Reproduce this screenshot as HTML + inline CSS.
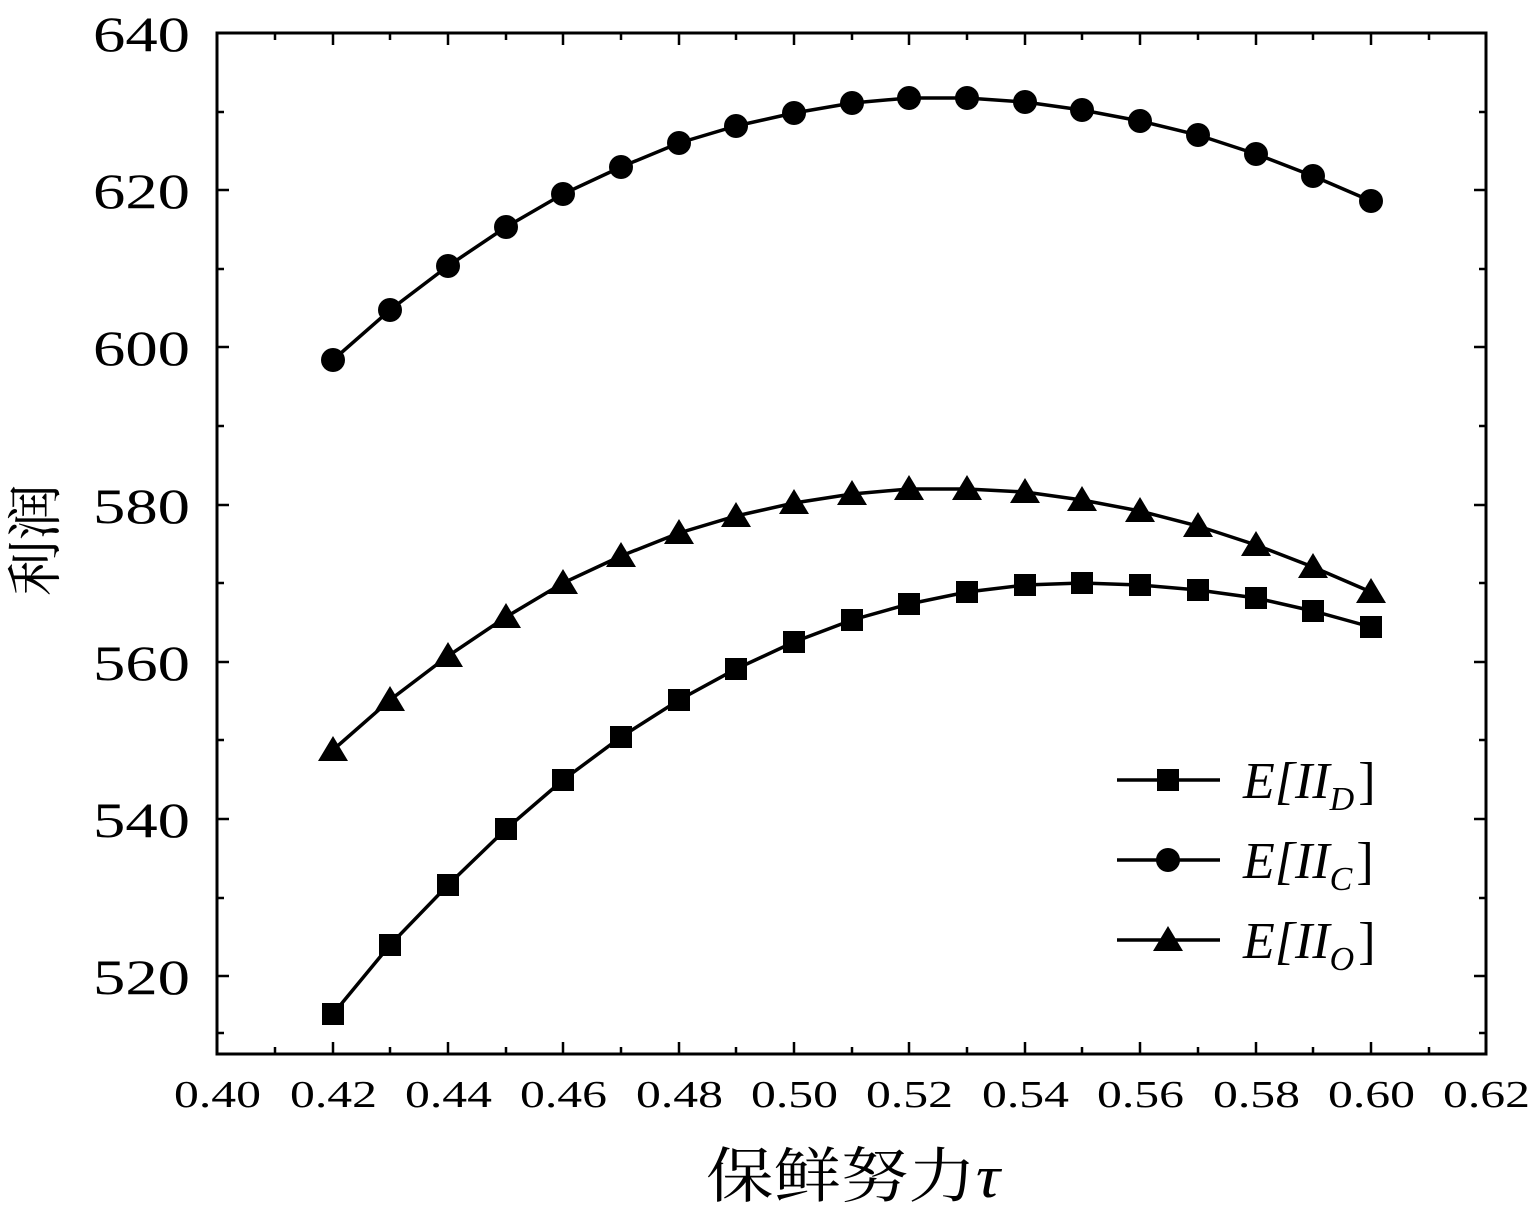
<!DOCTYPE html>
<html><head><meta charset="utf-8"><style>
html,body{margin:0;padding:0;background:#fff;}
svg{display:block;}
</style></head><body>
<svg width="1532" height="1216" viewBox="0 0 1532 1216" xmlns="http://www.w3.org/2000/svg">
<rect width="1532" height="1216" fill="#fff"/>
<rect x="217" y="33" width="1269" height="1021" fill="none" stroke="#000" stroke-width="3"/>
<g stroke="#000" stroke-width="2.5">
<path d="M333,1054v-12M448,1054v-12M563,1054v-12M679,1054v-12M794,1054v-12M909,1054v-12M1025,1054v-12M1140,1054v-12M1256,1054v-12M1371,1054v-12"/>
<path d="M275,1054v-7M390,1054v-7M506,1054v-7M621,1054v-7M736,1054v-7M852,1054v-7M967,1054v-7M1082,1054v-7M1198,1054v-7M1313,1054v-7M1429,1054v-7"/>
<path d="M333,33v12M448,33v12M563,33v12M679,33v12M794,33v12M909,33v12M1025,33v12M1140,33v12M1256,33v12M1371,33v12"/>
<path d="M275,33v7M390,33v7M506,33v7M621,33v7M736,33v7M852,33v7M967,33v7M1082,33v7M1198,33v7M1313,33v7M1429,33v7"/>
<path d="M217,190h12M217,347h12M217,505h12M217,662h12M217,819h12M217,976h12"/>
<path d="M217,112h7M217,269h7M217,426h7M217,583h7M217,740h7M217,898h7M217,1033h7"/>
<path d="M1486,190h-12M1486,347h-12M1486,505h-12M1486,662h-12M1486,819h-12M1486,976h-12"/>
<path d="M1486,112h-7M1486,269h-7M1486,426h-7M1486,583h-7M1486,740h-7M1486,898h-7M1486,1033h-7"/>
</g>
<g font-family="Liberation Serif, serif" font-size="50" fill="#000">
<text x="93" y="51" textLength="97" lengthAdjust="spacingAndGlyphs">640</text>
<text x="93" y="208" textLength="97" lengthAdjust="spacingAndGlyphs">620</text>
<text x="93" y="365" textLength="97" lengthAdjust="spacingAndGlyphs">600</text>
<text x="93" y="523" textLength="97" lengthAdjust="spacingAndGlyphs">580</text>
<text x="93" y="680" textLength="97" lengthAdjust="spacingAndGlyphs">560</text>
<text x="93" y="837" textLength="97" lengthAdjust="spacingAndGlyphs">540</text>
<text x="93" y="994" textLength="97" lengthAdjust="spacingAndGlyphs">520</text>
</g>
<g font-family="Liberation Serif, serif" font-size="38" fill="#000">
<text x="174" y="1107" textLength="87" lengthAdjust="spacingAndGlyphs">0.40</text>
<text x="290" y="1107" textLength="87" lengthAdjust="spacingAndGlyphs">0.42</text>
<text x="405" y="1107" textLength="87" lengthAdjust="spacingAndGlyphs">0.44</text>
<text x="520" y="1107" textLength="87" lengthAdjust="spacingAndGlyphs">0.46</text>
<text x="636" y="1107" textLength="87" lengthAdjust="spacingAndGlyphs">0.48</text>
<text x="751" y="1107" textLength="87" lengthAdjust="spacingAndGlyphs">0.50</text>
<text x="866" y="1107" textLength="87" lengthAdjust="spacingAndGlyphs">0.52</text>
<text x="982" y="1107" textLength="87" lengthAdjust="spacingAndGlyphs">0.54</text>
<text x="1097" y="1107" textLength="87" lengthAdjust="spacingAndGlyphs">0.56</text>
<text x="1213" y="1107" textLength="87" lengthAdjust="spacingAndGlyphs">0.58</text>
<text x="1328" y="1107" textLength="87" lengthAdjust="spacingAndGlyphs">0.60</text>
<text x="1443" y="1107" textLength="87" lengthAdjust="spacingAndGlyphs">0.62</text>
</g>
<text x="706" y="1197" textLength="294" lengthAdjust="spacingAndGlyphs" font-family="Liberation Serif, 'Noto Serif CJK SC', serif" font-size="60">保鲜努力<tspan font-style="italic">τ</tspan></text>
<text transform="translate(55,540) rotate(-90)" font-family="'Noto Serif CJK SC', serif" font-size="56" text-anchor="middle">利润</text>
<g fill="none" stroke="#000" stroke-width="3.5">
<polyline points="333,360 390,310 448,266 506,227 563,194 621,167 679,143 736,126 794,113 852,103 909,98 967,98 1025,102 1082,110 1140,121 1198,135 1256,154 1313,176 1371,201"/>
<polyline points="333,750 390,700 448,656 506,617 563,583 621,556 679,533 736,516 794,503 852,494 909,489 967,489 1025,492 1082,500 1140,511 1198,526 1256,545 1313,567 1371,592"/>
<polyline points="333,1014 390,945 448,885 506,829 563,780 621,737 679,700 736,669 794,642 852,620 909,604 967,592 1025,585 1082,583 1140,585 1198,590 1256,598 1313,611 1371,627"/>
<path d="M1117,780h103M1117,860h103M1117,940h103"/>
</g>
<g fill="#000">
<circle cx="333" cy="360" r="12"/><circle cx="390" cy="310" r="12"/><circle cx="448" cy="266" r="12"/><circle cx="506" cy="227" r="12"/><circle cx="563" cy="194" r="12"/><circle cx="621" cy="167" r="12"/><circle cx="679" cy="143" r="12"/><circle cx="736" cy="126" r="12"/><circle cx="794" cy="113" r="12"/><circle cx="852" cy="103" r="12"/><circle cx="909" cy="98" r="12"/><circle cx="967" cy="98" r="12"/><circle cx="1025" cy="102" r="12"/><circle cx="1082" cy="110" r="12"/><circle cx="1140" cy="121" r="12"/><circle cx="1198" cy="135" r="12"/><circle cx="1256" cy="154" r="12"/><circle cx="1313" cy="176" r="12"/><circle cx="1371" cy="201" r="12"/>
<circle cx="1168" cy="860" r="12"/>
<rect x="322" y="1003" width="22" height="22"/><rect x="379" y="934" width="22" height="22"/><rect x="437" y="874" width="22" height="22"/><rect x="495" y="818" width="22" height="22"/><rect x="552" y="769" width="22" height="22"/><rect x="610" y="726" width="22" height="22"/><rect x="668" y="689" width="22" height="22"/><rect x="725" y="658" width="22" height="22"/><rect x="783" y="631" width="22" height="22"/><rect x="841" y="609" width="22" height="22"/><rect x="898" y="593" width="22" height="22"/><rect x="956" y="581" width="22" height="22"/><rect x="1014" y="574" width="22" height="22"/><rect x="1071" y="572" width="22" height="22"/><rect x="1129" y="574" width="22" height="22"/><rect x="1187" y="579" width="22" height="22"/><rect x="1245" y="587" width="22" height="22"/><rect x="1302" y="600" width="22" height="22"/><rect x="1360" y="616" width="22" height="22"/>
<rect x="1157" y="769" width="22" height="22"/>
<path d="M333,736l-15,25h30zM390,686l-15,25h30zM448,642l-15,25h30zM506,603l-15,25h30zM563,569l-15,25h30zM621,542l-15,25h30zM679,519l-15,25h30zM736,502l-15,25h30zM794,489l-15,25h30zM852,480l-15,25h30zM909,475l-15,25h30zM967,475l-15,25h30zM1025,478l-15,25h30zM1082,486l-15,25h30zM1140,497l-15,25h30zM1198,512l-15,25h30zM1256,531l-15,25h30zM1313,553l-15,25h30zM1371,578l-15,25h30zM1168,926l-15,25h30z"/>
</g>
<g font-family="Liberation Serif, serif" font-size="52" font-style="italic" fill="#000">
<text x="1243" y="798">E[II<tspan font-size="34" dy="12">D</tspan><tspan font-style="normal" dy="-12" dx="4">]</tspan></text>
<text x="1243" y="878">E[II<tspan font-size="34" dy="12">C</tspan><tspan font-style="normal" dy="-12" dx="4">]</tspan></text>
<text x="1243" y="958">E[II<tspan font-size="34" dy="12">O</tspan><tspan font-style="normal" dy="-12" dx="4">]</tspan></text>
</g>
</svg>
</body></html>
